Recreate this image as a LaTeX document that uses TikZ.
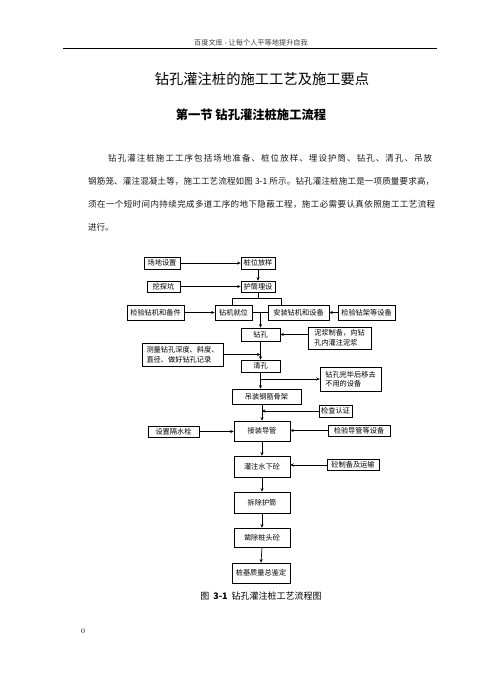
\documentclass[tikz,border=0pt]{standalone}
\usepackage{fontspec}
\newfontfamily\cjk{Noto Sans CJK SC}
\usetikzlibrary{arrows.meta}
\ExplSyntaxOn
\NewDocumentCommand\spreadline{mm}{\hbox~to~#1{\tl_map_inline:nn{#2}{##1\hfil}\unskip}}
\ExplSyntaxOff
\tikzset{
  box/.style={draw, line width=0.7bp, inner sep=0pt, font=\cjk\fontsize{7.2bp}{9.5bp}\selectfont},
  ln/.style={line width=0.7bp},
  arr/.style={line width=0.7bp, -{Stealth[length=3.5bp,width=3bp]}},
  para/.style={inner sep=0pt, anchor=west, text=black!90, font=\cjk\fontsize{8.5bp}{10bp}\selectfont}
}
\begin{document}
\begin{tikzpicture}[x=1bp,y=-1bp]
\useasboundingbox (0,0) rectangle (499,691);
\fill[white] (0,0) rectangle (499,691);
% header
\node[inner sep=0pt, text=black!75, font=\cjk\fontsize{7.2bp}{8bp}\selectfont] (hdr) at (251,43) {百度文库\ -\ 让每个人平等地提升自我};
\coordinate (hl) at (63,48.5);
\coordinate (hr) at (437,48.5);
\draw[line width=0.6bp] (hl) -- (hr);
% title
\node[inner sep=0pt, font=\cjk\fontsize{14.3bp}{16bp}\selectfont] (title) at (262,79) {钻孔灌注桩的施工工艺及施工要点};
\node[inner sep=0pt, font=\cjk\bfseries\fontsize{12.3bp}{14bp}\selectfont] (sec) at (251,115) {第一节 钻孔灌注桩施工流程};
% paragraph
\node[para] (p1) at (108,158) {\spreadline{324bp}{钻孔灌注桩施工工序包括场地准备、桩位放样、埋设护筒、钻孔、清孔、吊放}};
\node[para] (p2) at (88,181) {\spreadline{346bp}{钢筋笼、灌注混凝土等，施工工艺流程如图{\ 3-1\ }所示。钻孔灌注桩施工是一项质量要求高，}};
\node[para] (p3) at (88,204) {\spreadline{347bp}{须在一个短时间内持续完成多道工序的地下隐蔽工程，施工必需要认真依照施工工艺流程}};
\node[para] (p4) at (88,227) {进行。};
% boxes
\node[box, minimum width=36, minimum height=12] (zd) at (162,263) {场地设置};
\node[box, minimum width=34, minimum height=12] (zw) at (258,263) {桩位放样};
\node[box, minimum width=33, minimum height=11] (wt) at (163.5,286.5) {挖探坑};
\node[box, minimum width=34, minimum height=11] (ht) at (258,286.5) {护筒埋设};
\node[box, minimum width=57, minimum height=15] (jj) at (155.5,312.5) {检验钻机和备件};
\node[box, minimum width=37, minimum height=15] (zj) at (233.5,312.5) {钻机就位};
\node[box, minimum width=61, minimum height=15] (az) at (298.5,312.5) {安装钻机和设备};
\node[box, minimum width=57, minimum height=15] (jz) at (366.5,312.5) {检验钻架等设备};
\node[box, minimum width=39, minimum height=13] (zk) at (260.5,334.5) {钻孔};
\node[box, minimum width=63, minimum height=22, align=left] (nj) at (339.5,338) {泥浆制备，向钻\\孔内灌注泥浆};
\node[box, minimum width=81, minimum height=23, align=left] (cl) at (182.5,354.5) {测量钻孔深度、斜度、\\直径、做好钻孔记录};
\node[box, minimum width=39, minimum height=12] (qk) at (260.5,366) {清孔};
\node[box, minimum width=61, minimum height=24, align=left] (yc) at (350.5,379) {钻孔完毕后移去\\不用的设备};
\node[box, minimum width=69, minimum height=15] (dz) at (266.5,396.5) {吊装钢筋骨架};
\node[box, minimum width=33, minimum height=12] (jc) at (335.5,411) {检查认证};
\node[box, minimum width=51, minimum height=11] (gs) at (173.5,431.5) {设置隔水栓};
\node[box, minimum width=56, minimum height=20] (jd) at (262,431) {接装导管};
\node[box, minimum width=62, minimum height=11] (jg) at (359,430.5) {检验导管等设备};
\node[box, minimum width=56, minimum height=21] (gz) at (262,466.5) {灌注水下砼};
\node[box, minimum width=52, minimum height=11] (tz) at (353,465) {砼制备及运输};
\node[box, minimum width=56, minimum height=21] (cc) at (262,502.5) {拆除护筒};
\node[box, minimum width=56, minimum height=19] (zc) at (262,537.5) {凿除桩头砼};
\node[box, minimum width=58, minimum height=20] (zjd) at (261,573) {桩基质量总鉴定};
% connectors
\draw[arr] (zd.east) -- (zw.west);
\draw[arr] (zw.south) -- (ht.north);
\draw[arr] (wt.east) -- (ht.west);
\coordinate (bl) at (232,298);
\coordinate (brr) at (281,298);
\draw[ln] (ht.south) -- (ht.south |- bl);
\draw[ln] (bl) -- (brr);
\draw[ln] (bl) -- (bl |- zj.north);
\draw[ln] (brr) -- (brr |- az.north);
\draw[arr] (jj.east) -- (zj.west);
\draw[arr] (jz.west) -- (az.east);
\draw[ln] (zj.east) -- (az.west);
\draw[arr] (zk.north |- zj.east) -- (zk.north);
\draw[arr] (nj.west |- zk.east) -- (zk.east);
\draw[arr] (zk.south) -- (qk.north);
\draw[arr] (cl.east) -- (cl.east -| zk.south);
\draw[arr] (qk.south) -- (qk.south |- dz.north);
\draw[arr] (qk.south |- yc.west) -- (yc.west);
\draw[arr] (jd.north |- dz.south) -- (jd.north);
\draw[arr] (jc.west) -- (jc.west -| jd.north);
\draw[arr] (gs.east) -- (gs.east -| jd.west);
\draw[arr] (jg.west) -- (jg.west -| jd.east);
\draw[arr] (jd.south) -- (gz.north);
\draw[arr] (tz.west) -- (tz.west -| gz.east);
\draw[arr] (gz.south) -- (cc.north);
\draw[arr] (cc.south) -- (zc.north);
\draw[arr] (zc.south) -- (zjd.north);
% caption
\node[inner sep=0pt, font=\cjk\fontsize{9bp}{11bp}\selectfont] (cap) at (261,596) {图\ \ \textbf{3-1}\ \ 钻孔灌注桩工艺流程图};
\node[inner sep=0pt, font=\fontsize{7bp}{8bp}\selectfont] (pg) at (83,631) {0};
\end{tikzpicture}
\end{document}
